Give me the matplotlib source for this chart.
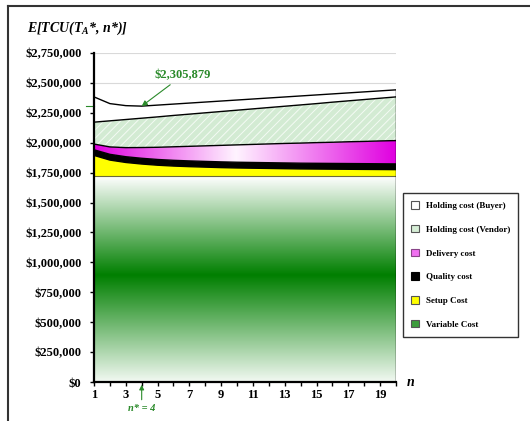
import numpy as np
import matplotlib
matplotlib.use("Agg")
import matplotlib.pyplot as plt
from matplotlib.colors import LinearSegmentedColormap
from matplotlib.patches import Patch
from matplotlib.lines import Line2D
from matplotlib.ticker import FuncFormatter

plt.rcParams['font.family'] = ['Liberation Serif', 'DejaVu Serif']
plt.rcParams['font.weight'] = 'bold'
plt.rcParams['hatch.linewidth'] = 0.7

# data (dollars), n = 1..20
n = list(range(1, 21))
variable_cost = [1720000, 1720000, 1720000, 1720000, 1720000, 1720000, 1720000, 1720000, 1720000, 1720000,
                 1720000, 1720000, 1720000, 1720000, 1720000, 1720000, 1720000, 1720000, 1720000, 1720000]
setup_cost = [174000, 135000, 115000, 102000, 92000, 85000, 80000, 76000, 72000, 69000,
              67000, 65000, 63000, 61000, 60000, 59000, 58000, 57000, 56000, 55000]
quality_cost = [47000, 48000, 48000, 48000, 48000, 48000, 48000, 48000, 48000, 48000,
                48000, 48000, 48000, 48000, 48000, 48000, 48000, 48000, 48000, 48000]
delivery_cost = [48000, 62000, 76000, 90000, 102000, 113000, 122000, 130000, 138000, 145000,
                 151000, 157000, 163000, 168000, 173000, 177000, 182000, 186000, 191000, 195000]
vendor_holding = [183000, 218000, 235000, 245000, 254000, 262000, 269000, 276000, 283000, 290000,
                  297000, 304000, 311000, 319000, 326000, 335000, 342000, 350000, 357000, 365000]
buyer_holding = [211000, 144000, 116000, 100879, 98500, 95000, 92500, 90000, 87500, 85000,
                 82500, 80000, 77500, 75000, 72500, 69000, 66500, 64000, 61500, 59000]
n_opt = 4
min_label = '$2,305,879'

green = '#2a8a2a'
x = np.array(n)
layers = [variable_cost, setup_cost, quality_cost, delivery_cost, vendor_holding, buyer_holding]
tops = np.cumsum(np.array(layers, dtype=float), axis=0)
bottoms = np.vstack([np.zeros(len(n)), tops[:-1]])
total = tops[-1]

fig = plt.figure(figsize=(5.3, 4.21), dpi=100)
ax = fig.add_axes([94 / 530, 1 - 382 / 421, 302 / 530, 329 / 421])
ax.set_xlim(1, 20)
ax.set_ylim(0, 2750000)

# gridlines behind everything
ax.set_yticks(np.arange(0, 2750001, 250000))
ax.yaxis.grid(True, color='#d9d9d9', lw=0.8, zorder=0)
ax.set_axisbelow(True)

# variable cost - vertical green gradient
var_poly = ax.fill_between(x, bottoms[0], tops[0], facecolor='none', lw=0, zorder=1)
cmap_v = LinearSegmentedColormap.from_list('v', [(0, '#f2f9f2'), (0.52, '#007f00'), (1, '#ffffff')])
im = ax.imshow(np.linspace(0, 1, 256).reshape(-1, 1), extent=[1, 20, 0, tops[0].max()],
               origin='lower', aspect='auto', cmap=cmap_v, zorder=1)
im.set_clip_path(var_poly.get_paths()[0], transform=ax.transData)

# setup, quality
ax.fill_between(x, bottoms[1], tops[1], facecolor='#ffff00', lw=0, zorder=2)
ax.fill_between(x, bottoms[2], tops[2], facecolor='black', lw=0, zorder=2)

# delivery - horizontal magenta gradient
del_poly = ax.fill_between(x, bottoms[3], tops[3], facecolor='none', lw=0, zorder=2)
cmap_d = LinearSegmentedColormap.from_list('d', [(0, '#e000e0'), (0.47, '#fff4ff'), (1, '#e000e0')])
im2 = ax.imshow(np.linspace(0, 1, 256).reshape(1, -1), extent=[1, 20, 0, 2750000],
                origin='lower', aspect='auto', cmap=cmap_d, zorder=2)
im2.set_clip_path(del_poly.get_paths()[0], transform=ax.transData)

# vendor holding - hatched light green
ax.fill_between(x, bottoms[4], tops[4], facecolor='#d3ebd3', edgecolor='#f4fbf4', hatch='////', lw=0, zorder=2)
# buyer holding - white
ax.fill_between(x, bottoms[5], tops[5], facecolor='white', lw=0, zorder=2)

# outlines
for i, t in enumerate(tops):
    ax.plot(x, t, color='#6b6b3a' if i == 0 else 'black', lw=1.0 if i else 0.8, zorder=3)
ax.plot([20, 20], [0, total[-1]], color='black', lw=1.0, zorder=3)

# axes styling
for s in ['top', 'right']:
    ax.spines[s].set_visible(False)
ax.spines['left'].set_linewidth(1.6)
ax.spines['bottom'].set_linewidth(1.6)
ax.spines['left'].set_zorder(5)
ax.spines['bottom'].set_zorder(5)
ax.yaxis.set_major_formatter(FuncFormatter(lambda v, p: '${:,.0f}'.format(v)))
ax.set_xticks(n)
ax.set_xticklabels([str(v) if v % 2 == 1 else '' for v in n])
ax.tick_params(axis='both', labelsize=9, length=3, width=1, direction='out')
ax.tick_params(axis='y', pad=6)
ax.tick_params(axis='x', pad=2)

# min marker and annotation
ax.plot([-0.025, 0], [total[n_opt - 1]] * 2, color=green, lw=0.8,
        transform=ax.get_yaxis_transform(), clip_on=False)
ax.annotate(min_label, xy=(n_opt, total[n_opt - 1]), xytext=(6.6, 2565000),
            ha='center', va='center', color=green, fontsize=9, fontweight='bold',
            arrowprops=dict(arrowstyle='-|>', color=green, lw=0.8, mutation_scale=8,
                            shrinkA=1, shrinkB=0), zorder=6)
ax.annotate('n* = 4', xy=(n_opt, 0), xytext=(0, -19), textcoords='offset points',
            ha='center', va='center', color=green, fontsize=7.5, fontweight='bold', fontstyle='italic',
            arrowprops=dict(arrowstyle='-|>', color=green, lw=0.8, mutation_scale=7,
                            shrinkA=1, shrinkB=2), annotation_clip=False)

fig.text(27 / 530, 1 - 28 / 421, 'E[TCU(T$_\\mathregular{A}$*, n*)]', fontsize=10,
         fontweight='bold', fontstyle='italic', va='center', ha='left')
fig.text(407 / 530, 1 - 382 / 421, 'n', fontsize=10, fontweight='bold', fontstyle='italic',
         va='center', ha='left')

# legend
handles = [Patch(facecolor='white', edgecolor='#555555', lw=0.8),
           Patch(facecolor='#d6eed6', edgecolor='#555555', lw=0.8),
           Patch(facecolor='#f070f0', edgecolor='#884488', lw=0.8),
           Patch(facecolor='black', edgecolor='black', lw=0.8),
           Patch(facecolor='#ffff00', edgecolor='#555555', lw=0.8),
           Patch(facecolor='#3c9c3c', edgecolor='#555555', lw=0.8)]
labels = ['Holding cost (Buyer)', 'Holding cost (Vendor)', 'Delivery cost',
          'Quality cost', 'Setup Cost', 'Variable Cost']
leg = fig.legend(handles, labels, loc='upper left', bbox_to_anchor=(403 / 530, 1 - 193 / 421),
                 bbox_transform=fig.transFigure, fontsize=6.5, frameon=True, fancybox=False,
                 edgecolor='#333333', labelspacing=1.65, handlelength=0.9, handleheight=0.9,
                 handletextpad=0.7, borderpad=0.9, borderaxespad=0, framealpha=1)
leg.get_frame().set_linewidth(1.0)

# outer frame (top and left edges)
fig.add_artist(Line2D([8 / 530, 1], [1 - 6 / 421] * 2, color='#333333', lw=1.5, transform=fig.transFigure))
fig.add_artist(Line2D([8 / 530] * 2, [0, 1 - 6 / 421], color='#333333', lw=1.5, transform=fig.transFigure))

fig.savefig('out.png', dpi=100)
